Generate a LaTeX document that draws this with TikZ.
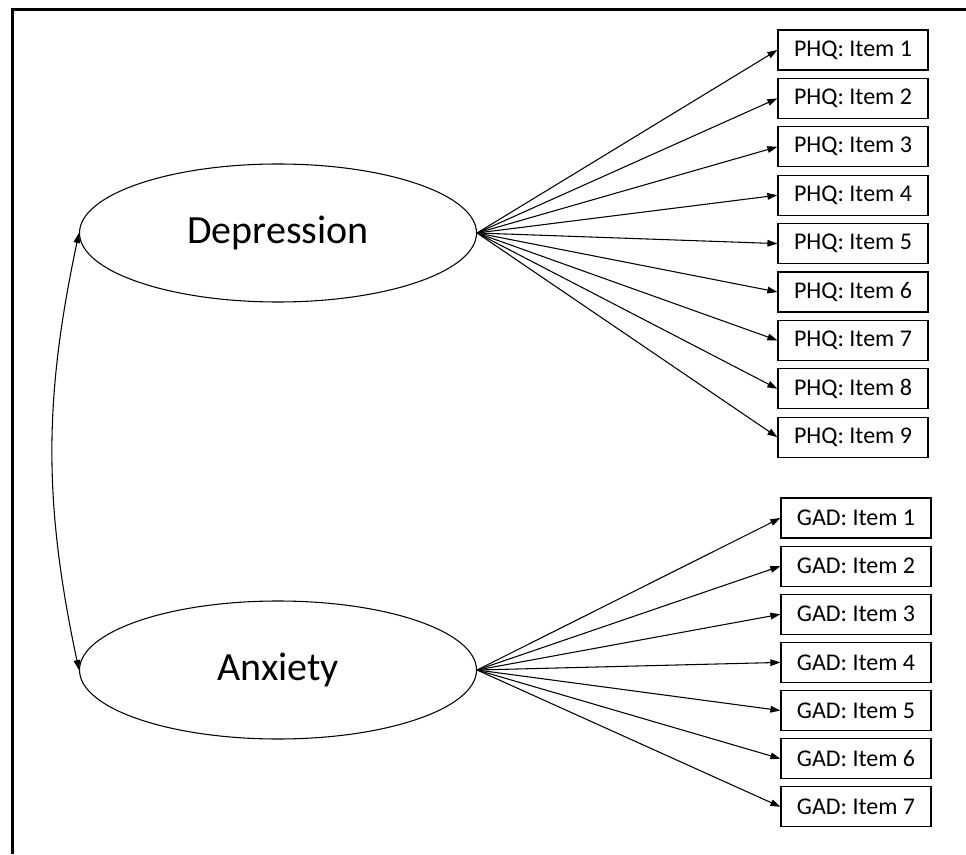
\documentclass[tikz,border=0pt]{standalone}
\usepackage{fontspec}
\setmainfont{Carlito}
\usetikzlibrary{arrows.meta,positioning,shapes.geometric}
\tikzset{
  latent/.style={draw, ellipse, minimum width=297.75pt, minimum height=103.5pt, line width=0.8pt, font=\fontsize{30}{36}\selectfont},
  item/.style={draw, rectangle, minimum width=112.5pt, minimum height=30pt, inner sep=0pt, line width=0.9pt, font=\fontsize{18}{22}\selectfont},
  arr/.style={-{Triangle[length=7.5pt, width=5pt]}, line width=0.8pt},
  cov/.style={{Triangle[length=7.5pt, width=5pt]}-{Triangle[length=7.5pt, width=5pt]}, line width=0.8pt},
}
\begin{document}
\begin{tikzpicture}[x=0.75pt, y=0.75pt, node distance=5.4pt]
\useasboundingbox (0,0) rectangle (966,854);
\draw[line width=1.8pt] (12.5,0) -- (12.5,844.5) -- (966,844.5);

\node[latent] (dep) at (278,621) {Depression};
\node[latent] (anx) at (278,184) {Anxiety};

\node[item] (phq1) at (853,804) {PHQ: Item 1};
\node[item, below=of phq1] (phq2) {PHQ: Item 2};
\node[item, below=of phq2] (phq3) {PHQ: Item 3};
\node[item, below=of phq3] (phq4) {PHQ: Item 4};
\node[item, below=of phq4] (phq5) {PHQ: Item 5};
\node[item, below=of phq5] (phq6) {PHQ: Item 6};
\node[item, below=of phq6] (phq7) {PHQ: Item 7};
\node[item, below=of phq7] (phq8) {PHQ: Item 8};
\node[item, below=of phq8] (phq9) {PHQ: Item 9};

\node[item] (gad1) at (856,336) {GAD: Item 1};
\node[item, below=5.2pt of gad1] (gad2) {GAD: Item 2};
\node[item, below=5.2pt of gad2] (gad3) {GAD: Item 3};
\node[item, below=5.2pt of gad3] (gad4) {GAD: Item 4};
\node[item, below=5.2pt of gad4] (gad5) {GAD: Item 5};
\node[item, below=5.2pt of gad5] (gad6) {GAD: Item 6};
\node[item, below=5.2pt of gad6] (gad7) {GAD: Item 7};

\draw[arr] (dep.east) -- (phq1.west);
\draw[arr] (dep.east) -- (phq2.west);
\draw[arr] (dep.east) -- (phq3.west);
\draw[arr] (dep.east) -- (phq4.west);
\draw[arr] (dep.east) -- (phq5.west);
\draw[arr] (dep.east) -- (phq6.west);
\draw[arr] (dep.east) -- (phq7.west);
\draw[arr] (dep.east) -- (phq8.west);
\draw[arr] (dep.east) -- (phq9.west);

\draw[arr] (anx.east) -- (gad1.west);
\draw[arr] (anx.east) -- (gad2.west);
\draw[arr] (anx.east) -- (gad3.west);
\draw[arr] (anx.east) -- (gad4.west);
\draw[arr] (anx.east) -- (gad5.west);
\draw[arr] (anx.east) -- (gad6.west);
\draw[arr] (anx.east) -- (gad7.west);

\draw[cov] (dep.west) to[bend right=12] (anx.west);

\end{tikzpicture}
\end{document}
